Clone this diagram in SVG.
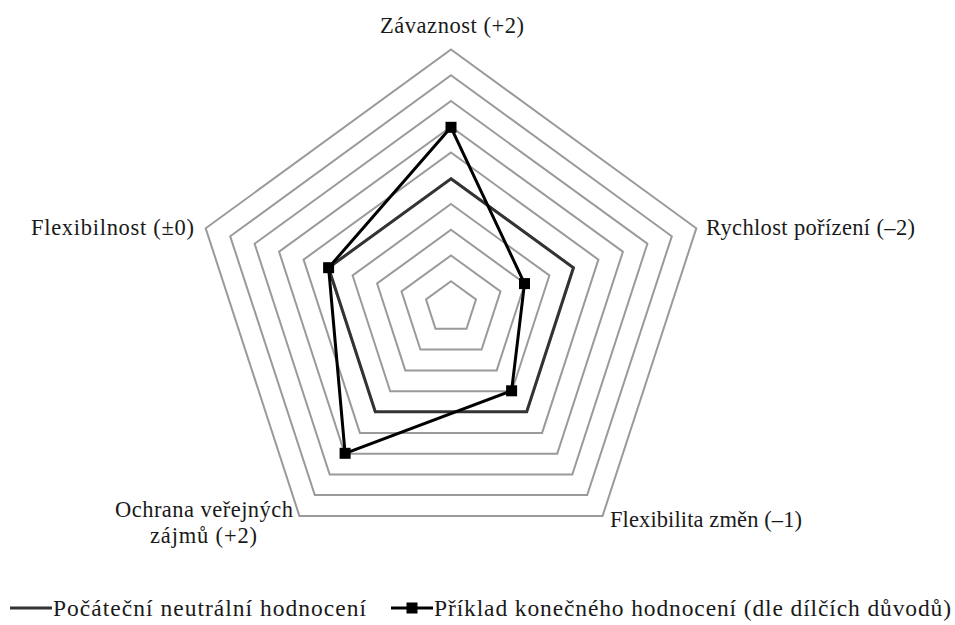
<svg xmlns="http://www.w3.org/2000/svg" width="955" height="625" viewBox="0 0 955 625">
  <defs>
    <style>
      .grid { fill: none; stroke: #9a9a9a; stroke-width: 2; }
      .neutral { fill: none; stroke: #333333; stroke-width: 3; stroke-linejoin: miter; }
      .example { fill: none; stroke: #000000; stroke-width: 3; stroke-linejoin: miter; }
      .lbl { font-family: "Liberation Serif", "Times New Roman", serif; font-size: 22.5px; fill: #1a1a1a; }
      .leg { font-family: "Liberation Serif", "Times New Roman", serif; font-size: 23.5px; fill: #1a1a1a; }
    </style>
    <rect id="sq" x="-5.5" y="-5.5" width="11" height="11" fill="#000000"/>
  </defs>
  <rect width="955" height="625" fill="#ffffff"/>

  <!-- radar grid: 10 concentric pentagons, centre (451,307.5), step 25.75 -->
  <g id="grid">
    <polygon class="grid" points="451,49.5 696.3,228.3 602.6,515.9 299.4,515.9 205.7,228.3"/>
    <polygon class="grid" points="451,75.3 671.8,236.3 587.2,495.0 314.8,495.0 230.2,236.3"/>
    <polygon class="grid" points="451,101.0 647.4,243.7 572.3,474.6 329.7,474.6 254.6,243.7"/>
    <polygon class="grid" points="451,126.8 622.9,251.7 557.2,453.7 344.8,453.7 279.1,251.7"/>
    <polygon class="grid" points="451,152.5 598.4,259.6 542.1,432.9 359.9,432.9 303.6,259.6"/>
    <polygon class="grid" points="451,178.3 573.9,267.6 526.9,412.0 375.1,412.0 328.1,267.6"/>
    <polygon class="grid" points="451,204.0 549.4,275.5 511.8,391.3 390.2,391.3 352.6,275.5"/>
    <polygon class="grid" points="451,229.8 524.9,283.5 496.7,370.4 405.3,370.4 377.1,283.5"/>
    <polygon class="grid" points="451,255.5 500.5,291.4 481.6,349.6 420.4,349.6 401.5,291.4"/>
    <polygon class="grid" points="451,281.3 476.0,299.4 466.5,328.7 435.5,328.7 426.0,299.4"/>
  </g>

  <!-- data series -->
  <g id="series">
    <g id="neutral-series">
      <polygon class="neutral" points="451,178.8 573.4,267.7 526.7,411.7 375.3,411.7 328.6,267.7"/>
    </g>
    <g id="example-series">
      <polygon class="example" points="451,127.3 524.5,283.6 511.6,390.8 345.1,453.3 328.6,267.7"/>
      <use href="#sq" x="451" y="127.3"/>
      <use href="#sq" x="524.5" y="283.6"/>
      <use href="#sq" x="511.6" y="390.8"/>
      <use href="#sq" x="345.1" y="453.3"/>
      <use href="#sq" x="328.6" y="267.7"/>
    </g>
  </g>

  <!-- axis labels -->
  <g id="labels">
    <text class="lbl" x="380" y="33" textLength="144" lengthAdjust="spacing">Závaznost (+2)</text>
    <text class="lbl" x="706" y="235" textLength="209" lengthAdjust="spacing">Rychlost pořízení (–2)</text>
    <text class="lbl" x="610" y="527" textLength="192" lengthAdjust="spacing">Flexibilita změn (–1)</text>
    <text class="lbl" x="115" y="517" textLength="178" lengthAdjust="spacing">Ochrana veřejných</text>
    <text class="lbl" x="150" y="543" textLength="107" lengthAdjust="spacing">zájmů (+2)</text>
    <text class="lbl" x="31" y="235" textLength="163" lengthAdjust="spacing">Flexibilnost (±0)</text>
  </g>

  <!-- legend -->
  <g id="legend">
    <line x1="10" y1="608" x2="52" y2="608" stroke="#333333" stroke-width="3"/>
    <text class="leg" x="53" y="616" textLength="313" lengthAdjust="spacing">Počáteční neutrální hodnocení</text>
    <line x1="391" y1="608" x2="433" y2="608" stroke="#000000" stroke-width="3"/>
    <use href="#sq" x="412" y="608"/>
    <text class="leg" x="434" y="616" textLength="517" lengthAdjust="spacing">Příklad konečného hodnocení (dle dílčích důvodů)</text>
  </g>
</svg>
